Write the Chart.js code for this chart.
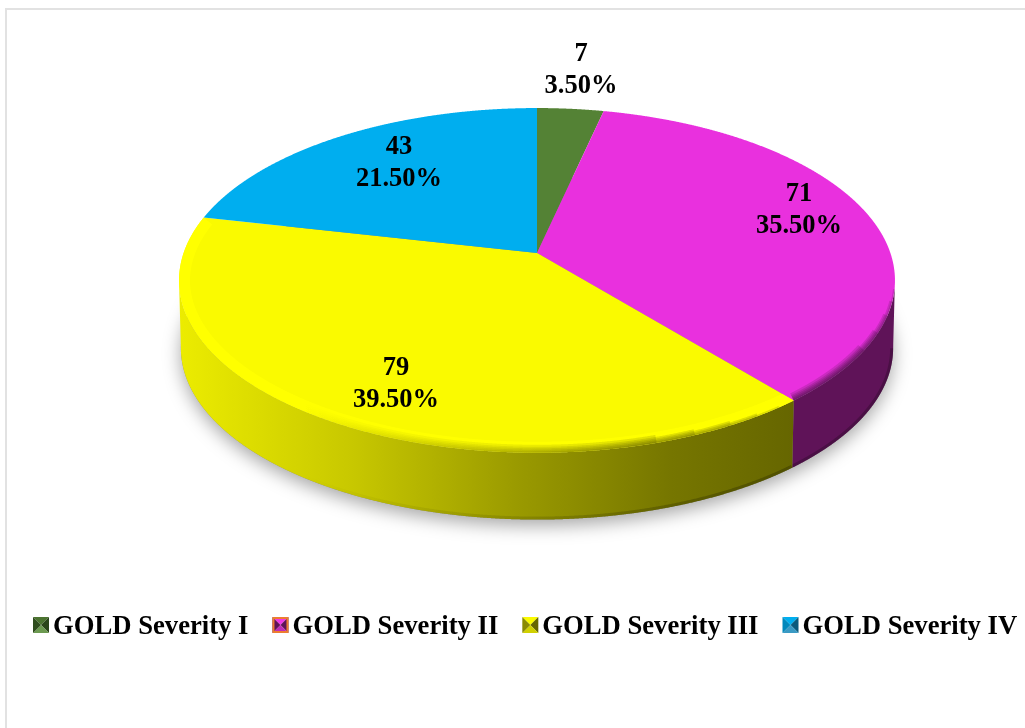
<!DOCTYPE html>
<html lang="en">
<head>
<meta charset="UTF-8">
<title>GOLD Severity</title>
<script src="https://cdn.jsdelivr.net/npm/chart.js"></script>
<style>
  html, body { margin: 0; padding: 0; background: #fff; }
  #wrap { width: 1025px; height: 728px; }
</style>
</head>
<body>
<div id="wrap"><canvas id="chart" width="1025" height="728"></canvas></div>
<script>
const categories = ['GOLD Severity I', 'GOLD Severity II', 'GOLD Severity III', 'GOLD Severity IV'];
const counts = [7, 71, 79, 43];

const faceColors = ['#548235', '#e930de', '#fafa00', '#00aeef'];
const rimColors = [null, null, '#ffff00', null];
const sideStops = [
  [[0, '#3c5e26'], [1, '#3c5e26']],
  [[0, '#5f1358'], [1, '#5f1358']],
  [[0, '#ecec00'], [0.28, '#c8c800'], [0.55, '#9a9a00'], [0.8, '#767600'], [1, '#666600']],
  [[0, '#00709a'], [1, '#00709a']]
];
const markerColors = [
  { top: '#4b7330', left: '#2f4d1e', right: '#2a451a', bottom: '#6c9a50', edge: null },
  { top: '#f038e6', left: '#5f1358', right: '#5f1358', bottom: '#c02cb8', edge: '#ed7d31' },
  { top: '#fafa00', left: '#8a8a00', right: '#666600', bottom: '#d0d000', edge: null },
  { top: '#00aeef', left: '#0088bc', right: '#0a5a7c', bottom: '#3a9ac4', edge: null }
];
const labelPos = [[581, 54], [799, 194], [396, 368], [399, 147]];

// projection of the pie disc, Excel style perspective
const CX = 537, CY = 253, A = 353.4, B = 168, K = 0.159;
const DEPTH = 68;
const FONT = '"Liberation Serif", "Times New Roman", serif';

function project(a, r, dy) {
  const u = r * Math.cos(a), v = r * Math.sin(a), w = 1 - K * v;
  return [CX + A * u / w, CY + B * v / w + dy];
}

function rimPoints(start, end, dy) {
  const pts = [];
  const n = Math.max(2, Math.ceil((end - start) * 400));
  for (let i = 0; i <= n; i++) {
    pts.push(project(start + (end - start) * i / n, dy ? 0.995 : 1, dy));
  }
  return pts;
}

function tracePts(ctx, pts) {
  pts.forEach((p, i) => (i ? ctx.lineTo(p[0], p[1]) : ctx.moveTo(p[0], p[1])));
}

function frontRange(arc) {
  const s = Math.asin(K);
  return [Math.max(arc.startAngle, s), Math.min(arc.endAngle, Math.PI - s)];
}

function edgeShade(ctx, alpha, endX) {
  const g = ctx.createLinearGradient(300, 0, endX, 0);
  g.addColorStop(0, 'rgba(0,0,0,0)');
  g.addColorStop(1, 'rgba(0,0,0,' + alpha + ')');
  return g;
}

function drawMarker(ctx, c, l, t, s) {
  const m = l + s / 2, n = t + s / 2;
  const tri = (color, ax, ay, bx, by) => {
    ctx.fillStyle = color;
    ctx.beginPath();
    ctx.moveTo(ax, ay);
    ctx.lineTo(bx, by);
    ctx.lineTo(m, n);
    ctx.closePath();
    ctx.fill();
  };
  tri(c.top, l, t, l + s, t);
  tri(c.right, l + s, t, l + s, t + s);
  tri(c.bottom, l + s, t + s, l, t + s);
  tri(c.left, l, t + s, l, t);
  if (c.edge) {
    ctx.strokeStyle = c.edge;
    ctx.lineWidth = 2;
    ctx.strokeRect(l + 1, t + 1, s - 2, s - 2);
  }
}

const framePlugin = {
  id: 'frame',
  beforeDraw(chart) {
    const ctx = chart.ctx;
    ctx.save();
    ctx.fillStyle = '#fff';
    ctx.fillRect(0, 0, chart.width, chart.height);
    ctx.fillStyle = '#e2e2e2';
    ctx.fillRect(5, 8, chart.width - 5, 2);
    ctx.fillRect(5, 8, 2, chart.height - 8);
    ctx.restore();
  }
};

// the arcs keep the angles the doughnut controller worked out, only the path is projected
const pie3dPlugin = {
  id: 'pie3d',
  beforeDatasetDraw(chart) {
    const ctx = chart.ctx;
    const arcs = chart.getDatasetMeta(0).data;
    ctx.save();

    // soft shadow under the pie
    ctx.save();
    ctx.shadowColor = 'rgba(0,0,0,0.35)';
    ctx.shadowBlur = 18;
    ctx.shadowOffsetY = 6;
    ctx.fillStyle = '#888';
    ctx.beginPath();
    tracePts(ctx, rimPoints(-Math.PI / 2, 3 * Math.PI / 2, DEPTH));
    ctx.closePath();
    ctx.fill();
    ctx.restore();

    // sides
    arcs.forEach((arc, i) => {
      const [from, to] = frontRange(arc);
      if (to <= from) return;
      const top = rimPoints(from, to, 0);
      const bottom = rimPoints(from, to, DEPTH);
      const xs = top.map(p => p[0]);
      const g = ctx.createLinearGradient(Math.min(...xs), 0, Math.max(...xs), 0);
      sideStops[i].forEach(s => g.addColorStop(s[0], s[1]));
      ctx.fillStyle = g;
      ctx.beginPath();
      tracePts(ctx, top);
      bottom.slice().reverse().forEach(p => ctx.lineTo(p[0], p[1]));
      ctx.closePath();
      ctx.fill();

      // darker lip along the bottom edge
      ctx.save();
      ctx.clip();
      ctx.strokeStyle = edgeShade(ctx, 0.22, 720);
      ctx.lineWidth = 6;
      ctx.beginPath();
      tracePts(ctx, bottom);
      ctx.stroke();
      ctx.restore();
    });

    // top faces
    arcs.forEach((arc, i) => {
      const pts = rimPoints(arc.startAngle, arc.endAngle, 0);
      const c = project(0, 0, 0);
      ctx.save();
      ctx.beginPath();
      ctx.moveTo(c[0], c[1]);
      tracePts(ctx, pts);
      ctx.lineTo(c[0], c[1]);
      ctx.closePath();
      ctx.fillStyle = faceColors[i];
      ctx.fill();
      ctx.clip();
      if (rimColors[i]) {
        ctx.strokeStyle = rimColors[i];
        ctx.lineWidth = 22;
        ctx.beginPath();
        tracePts(ctx, pts);
        ctx.stroke();
      }
      const [from, to] = frontRange(arc);
      if (to > from) {
        // wider strokes start later so the shading fades in near the right edge,
        // gradient ends differ so the alpha steps do not line up
        [[16, 0.4, 690], [12, 0.3, 705], [9, 0.2, 720], [6, 0.12, 735], [3, 0.05, 750]].forEach(([w, skip, endX]) => {
          const start = arc.startAngle <= from ? from + skip : from;
          if (to <= start) return;
          ctx.strokeStyle = edgeShade(ctx, 0.13, endX);
          ctx.lineWidth = w;
          ctx.beginPath();
          tracePts(ctx, rimPoints(start, to, 0));
          ctx.stroke();
        });
      }
      ctx.restore();
    });

    ctx.restore();
    return false; // projected slices replace the flat ones
  },
  afterDatasetsDraw(chart) {
    const ctx = chart.ctx;
    const total = counts.reduce((a, b) => a + b, 0);
    ctx.save();
    ctx.fillStyle = '#000';
    ctx.font = 'bold 26.5px ' + FONT;
    ctx.textAlign = 'center';
    ctx.textBaseline = 'middle';
    counts.forEach((v, i) => {
      ctx.fillText(String(v), labelPos[i][0], labelPos[i][1]);
      ctx.fillText((v / total * 100).toFixed(2) + '%', labelPos[i][0], labelPos[i][1] + 32);
    });

    // legend row: Chart's own legend wraps it, the row is wider than it allows
    ctx.font = 'bold 26.67px ' + FONT;
    ctx.textAlign = 'left';
    let x = 33;
    categories.forEach((t, i) => {
      drawMarker(ctx, markerColors[i], x, 617, 16);
      ctx.fillStyle = '#000';
      ctx.fillText(t, x + 20, 627);
      x += 20 + ctx.measureText(t).width + 24;
    });
    ctx.restore();
  }
};

new Chart(document.getElementById('chart'), {
  type: 'pie',
  data: {
    labels: categories,
    datasets: [{ data: counts, backgroundColor: faceColors, borderWidth: 0 }]
  },
  options: {
    responsive: false,
    animation: false,
    plugins: {
      tooltip: { enabled: false },
      legend: { display: false }
    }
  },
  plugins: [framePlugin, pie3dPlugin]
});
</script>
</body>
</html>
